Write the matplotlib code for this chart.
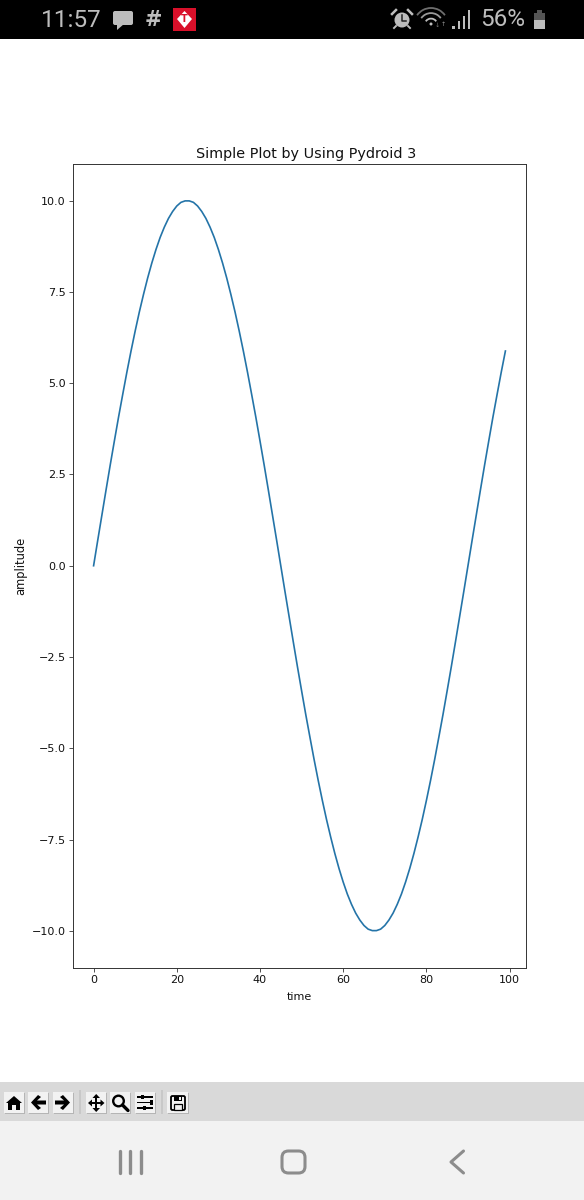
import matplotlib
matplotlib.use('Agg')
import matplotlib.pyplot as plt
from matplotlib.patches import Rectangle, FancyBboxPatch, Polygon, Circle, Arc

W, H = 584, 1200

title = 'Simple Plot by Using Pydroid 3'
x_label = 'time'
y_label = 'amplitude'
status_time = '11:57'
status_battery = '56%'

time = list(range(100))
amplitude = [
    0.00, 0.70, 1.39, 2.08, 2.76, 3.42, 4.07, 4.69, 5.30, 5.88,
    6.43, 6.95, 7.43, 7.88, 8.29, 8.66, 8.99, 9.27, 9.51, 9.70,
    9.85, 9.95, 9.99, 9.99, 9.95, 9.85, 9.70, 9.51, 9.27, 8.99,
    8.66, 8.29, 7.88, 7.43, 6.95, 6.43, 5.88, 5.30, 4.69, 4.07,
    3.42, 2.76, 2.08, 1.39, 0.70, 0.00, -0.70, -1.39, -2.08, -2.76,
    -3.42, -4.07, -4.69, -5.30, -5.88, -6.43, -6.95, -7.43, -7.88, -8.29,
    -8.66, -8.99, -9.27, -9.51, -9.70, -9.85, -9.95, -9.99, -9.99, -9.95,
    -9.85, -9.70, -9.51, -9.27, -8.99, -8.66, -8.29, -7.88, -7.43, -6.95,
    -6.43, -5.88, -5.30, -4.69, -4.07, -3.42, -2.76, -2.08, -1.39, -0.70,
    0.00, 0.70, 1.39, 2.08, 2.76, 3.42, 4.07, 4.69, 5.30, 5.88,
]

fig = plt.figure(figsize=(W / 100, H / 100), dpi=100, facecolor='white')

# overlay in pixel coords for the phone screen around the plot
ui = fig.add_axes([0, 0, 1, 1], zorder=0)
ui.set_xlim(0, W)
ui.set_ylim(H, 0)
ui.axis('off')

# the plot itself
ax = fig.add_axes([73 / W, 1 - 967.5 / H, (526 - 73) / W, (967.5 - 164) / H], zorder=1)
ax.plot(time, amplitude, color='#2474a8', linewidth=1.2)
ax.set_xlim(-4.95, 103.95)
ax.set_ylim(-11, 11)
ax.set_title(title, fontsize=10.4, pad=4.5, color='#111111', x=0.514)
ax.set_xlabel(x_label, fontsize=8, labelpad=5.5, color='#111111')
ax.set_ylabel(y_label, fontsize=8.3, labelpad=3, color='#111111')
ax.tick_params(labelsize=8, length=2.6, width=0.6, pad=2.6, color='#333333', labelcolor='#111111')
for s in ax.spines.values():
    s.set_linewidth(0.7)
    s.set_color('#333333')


def rect(x, y, w, h, color, z=1):
    ui.add_patch(Rectangle((x, y), w, h, facecolor=color, edgecolor='none', zorder=z))


def poly(pts, color, z=3):
    ui.add_patch(Polygon(pts, closed=True, facecolor=color, edgecolor='none', zorder=z))


# status bar
rect(0, 0, W, 39, 'black')
grey = '#bdbdbd'
ui.text(41, 20.5, status_time, color=grey, fontsize=17.5, family='Roboto', va='center', ha='left')
ui.text(480, 20, status_battery, color=grey, fontsize=17.5, family='Roboto', va='center', ha='left')

ui.add_patch(FancyBboxPatch((113, 11), 20, 14, boxstyle='round,pad=0,rounding_size=2',
                            facecolor=grey, edgecolor='none', zorder=3))
poly([(117, 24), (124, 24), (117, 30)], grey)
ui.text(153, 20.5, '#', color=grey, fontsize=15, fontweight='bold', va='center', ha='center')

rect(173, 8, 23, 23, '#d9102a', 3)
poly([(184.5, 11), (192, 19), (184.5, 28), (177, 19)], 'white', 4)
ui.text(184.5, 19.5, 'T', color='#d9102a', fontsize=7, fontweight='bold', va='center', ha='center', zorder=5)

# alarm
ui.add_patch(Circle((402, 20), 7.5, facecolor=grey, edgecolor='none', zorder=3))
ui.plot([402, 402, 406], [15, 21, 21], color='#222222', lw=1.1, zorder=4)
ui.plot([392, 396], [14, 10], color=grey, lw=1.8, zorder=3)
ui.plot([408, 412], [10, 14], color=grey, lw=1.8, zorder=3)
ui.plot([396, 394], [26, 28], color=grey, lw=1.4, zorder=3)
ui.plot([408, 410], [26, 28], color=grey, lw=1.4, zorder=3)

# wifi
for d, c in [(40, '#6e6e6e'), (28, '#9a9a9a'), (15, grey)]:
    ui.add_patch(Arc((431, 25), d * 0.85, d * 0.85, theta1=215, theta2=325, color=c, lw=1.3, zorder=3))
ui.add_patch(Circle((431, 24), 1.5, facecolor=grey, edgecolor='none', zorder=3))
ui.text(437, 25, '\u2193', color='#777777', fontsize=4.5, va='center', ha='center')
ui.text(443, 25, '\u2191', color='#999999', fontsize=4.5, va='center', ha='center')

# signal bars
for bx, top in zip([452, 457.5, 462.5, 467.5], [26, 21, 16, 10]):
    rect(bx, top, 2.8, 28.5 - top, grey, 3)

# battery
rect(534, 14, 11, 15, grey, 3)
rect(534, 13, 11, 7, '#555555', 4)
rect(537, 10, 5, 3, '#555555', 4)

# toolbar
rect(0, 1082, W, 39, '#d9d9d9')
rect(0, 1121, W, H - 1121, '#f2f2f2')
rect(79, 1090, 1.5, 24, '#c8c8c8', 2)
rect(161, 1090, 1.5, 24, '#c8c8c8', 2)

for bx, bw in [(4, 20), (28, 20), (53, 20), (86, 20), (110, 20), (135, 20), (167, 21)]:
    rect(bx + 1, 1093, bw, 21, '#b5b5b5', 2)
    rect(bx, 1092, bw, 21, '#f2f2f2', 2)

# home
poly([(14, 1096), (22, 1103), (20, 1103), (20, 1110), (16, 1110), (16, 1105), (12, 1105),
      (12, 1110), (8, 1110), (8, 1103), (6, 1103)], 'black')
# back and forward
poly([(38, 1095), (41, 1097), (37, 1100.5), (46, 1100.5), (46, 1104.5), (37, 1104.5),
      (41, 1108), (38, 1110), (31, 1102.5)], 'black')
poly([(63, 1095), (60, 1097), (64, 1100.5), (55, 1100.5), (55, 1104.5), (64, 1104.5),
      (60, 1108), (63, 1110), (70, 1102.5)], 'black')
# move
rect(95, 1097, 2.4, 12, 'black', 3)
rect(90, 1101.8, 12, 2.4, 'black', 3)
poly([(96.2, 1094), (92.5, 1098), (100, 1098)], 'black')
poly([(96.2, 1112), (92.5, 1108), (100, 1108)], 'black')
poly([(88, 1103), (92, 1099.5), (92, 1106.5)], 'black')
poly([(104.5, 1103), (100.5, 1099.5), (100.5, 1106.5)], 'black')
# zoom
ui.add_patch(Circle((118.5, 1101), 5.3, facecolor='none', edgecolor='black', lw=1.7, zorder=3))
ui.plot([122.5, 128], [1105, 1110.5], color='black', lw=2.4, zorder=3, solid_capstyle='round')
# configure
for ly, kx in [(1097, 141), (1102.5, 150), (1108, 143)]:
    rect(137, ly - 0.7, 16, 1.4, 'black', 3)
    rect(kx, ly - 2.2, 3, 4.4, 'black', 3)
# save
ui.add_patch(FancyBboxPatch((171, 1096), 14, 14, boxstyle='round,pad=0,rounding_size=1.5',
                            facecolor='none', edgecolor='black', lw=1.3, zorder=3))
rect(174, 1096, 8, 5, 'black', 3)
rect(178.5, 1097, 2, 3, '#f2f2f2', 4)
rect(174, 1104, 8, 6, '#f2f2f2', 4)
ui.add_patch(Rectangle((174, 1104), 8, 6, facecolor='none', edgecolor='black', lw=0.9, zorder=4))

# android nav bar
nav = '#8c8c8c'
for nx in [120, 130, 140.5]:
    ui.plot([nx, nx], [1151, 1172.5], color=nav, lw=2.4, solid_capstyle='round', zorder=3)
ui.add_patch(FancyBboxPatch((282, 1151), 23, 22, boxstyle='round,pad=0,rounding_size=6.5',
                            facecolor='none', edgecolor=nav, lw=2.2, zorder=3))
ui.plot([463.5, 451, 463.5], [1151, 1162, 1173], color=nav, lw=2.2, solid_capstyle='round',
        solid_joinstyle='round', zorder=3)

fig.savefig('out.png', dpi=100)
